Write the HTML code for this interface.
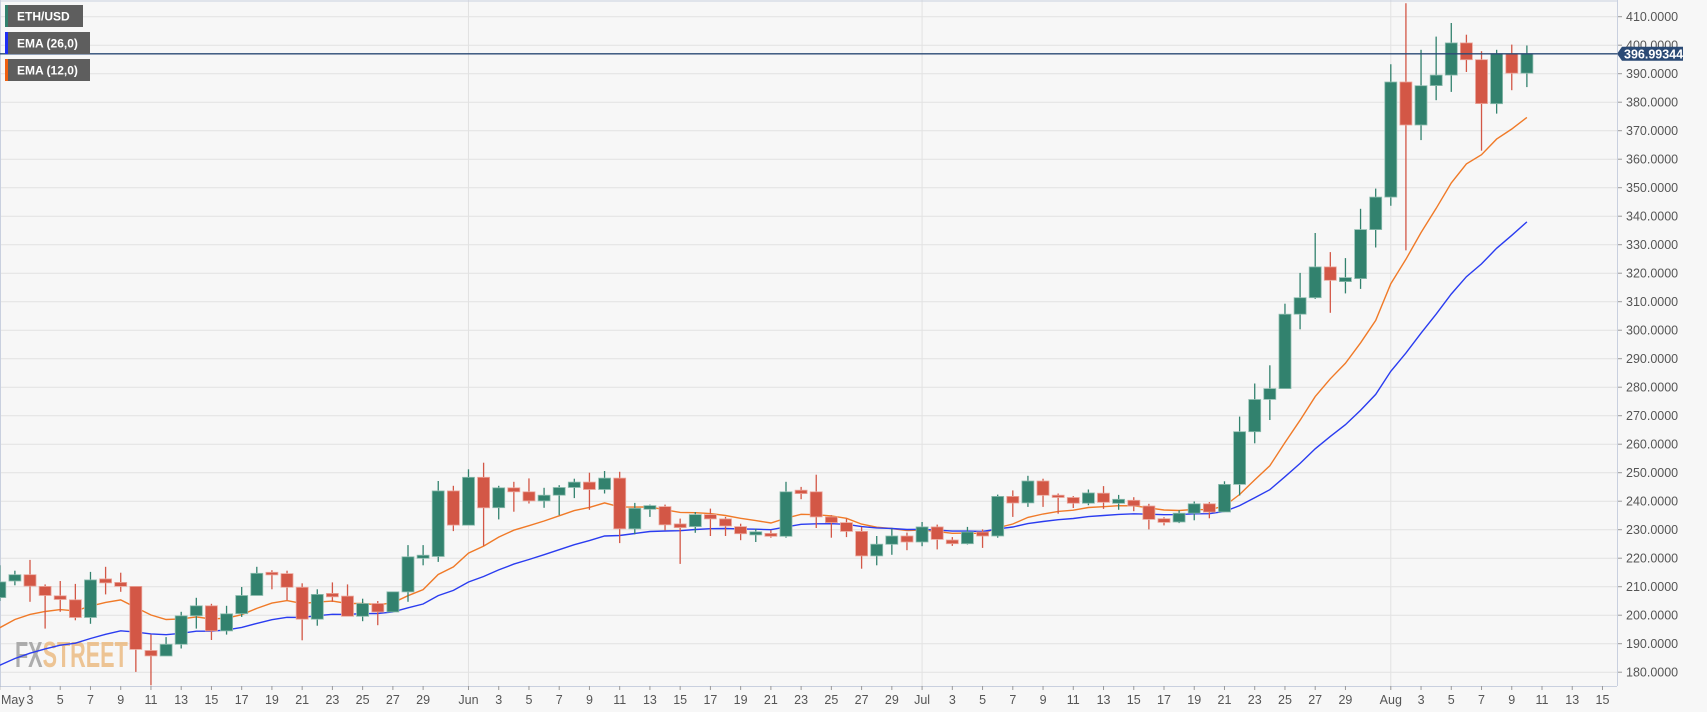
<!DOCTYPE html>
<html><head><meta charset="utf-8"><style>
html,body{margin:0;padding:0;background:#f7f7f7;}
svg{display:block;font-family:"Liberation Sans",sans-serif;}
</style></head><body>
<svg id="c" width="1707" height="712" xmlns="http://www.w3.org/2000/svg"></svg>
<script>
const D=[[206.2,217.5,205,211.7],[212,215.6,210.5,214.2],[214.2,219.4,204.7,210.2],[210.1,210.8,195.3,206.9],[206.8,212,201.2,205.5],[205.4,211,198.2,199.2],[199.2,215.2,197,212.4],[212.4,217,207.3,211.7],[211.5,214.9,208.2,210.1],[210.1,210.1,180.1,188],
[187.6,193.2,175.4,185.7],[185.7,192.3,185.7,189.8],[189.8,201.2,188.3,199.8],[199.8,206.1,195.3,203.3],[203.3,204,191.3,194.5],[194.5,203.3,193.2,200.5],[200.5,209.9,199.4,206.9],[206.9,217,206.9,214.7],[214.7,215.8,209.1,214.5],[214.6,215.6,205.3,209.8],
[209.8,211.2,191.2,198.6],[198.6,209.1,196.3,207.3],[207.3,211.5,204.7,206.8],[206.7,210.8,199.6,199.6],[199.6,205.8,197.9,204.1],[204.1,205,196.5,201.1],[201.1,208.2,201.1,208.2],[208.2,224.6,204.7,220.5],[220.3,224.6,217.5,220.7],[220.6,247.1,218.7,243.6],
[243.6,245.4,229.5,231.6],[231.6,251.2,231.6,248.4],[248.4,253.5,224.3,237.7],[237.7,245.4,233.6,244.7],[244.7,246.8,236.3,243.3],[243.3,248,239.2,240.1],[240.1,244.7,237.7,242.1],[242.1,245.6,235.1,244.8],[244.8,247.9,241.1,246.7],[246.7,250,237,244.1],
[244.1,250.6,242.7,248.1],[248.1,250.3,225.3,230.3],[230.3,239.4,228.4,237.5],[237.5,238.8,234.5,238.1],[238.1,238.8,229.8,231.7],[231.7,233.9,218,231.1],[231.1,236.2,228.9,235.3],[235.3,237.4,227.8,233.8],[233.8,234.5,227.8,231.3],[231.1,232.1,226.3,228.6],
[228.5,230.4,225.7,228.9],[228.7,229.8,227.2,227.7],[227.7,246.8,227.2,243.3],[243.5,245,240.7,243.0],[243.3,249.3,230.6,234.5],[234.5,235.1,227.2,232.5],[232.5,233.9,227.4,229.4],[229.4,231,216.3,220.8],[220.8,227.8,217.5,224.9],[224.9,230.4,221.2,227.8],
[227.8,229,222.8,225.7],[225.7,232.7,224.2,231],[231,231.8,223.1,226.6],[226.4,227.4,224.3,225.1],[225.1,231,224.8,229.2],[229.2,230.1,223.6,227.8],[227.8,242.3,227.2,241.7],[241.7,243.8,234.5,239.4],[239.4,248.9,238,247.1],[247.1,247.9,238,242.1],
[242.1,242.7,235.6,241.3],[241.3,241.8,237.6,239.3],[239.3,244.1,238.6,242.9],[242.8,245.3,237.3,239.6],[239.6,242.2,237,240.3],[240.3,241.4,236.5,238.3],[238.3,239.1,230.1,233.6],[233.5,234.4,231.5,232.9],[232.7,236.8,232.3,235.8],[235.8,239.9,233.3,239.1],
[239.1,239.7,234,236.2],[236.2,247,236.2,245.9],[245.9,269.7,242,264.4],[264.4,281.3,260.3,275.7],[275.7,287.7,268.5,279.5],[279.5,309.3,279.5,305.6],[305.6,320.1,300.3,311.4],[311.4,334.1,311,322.2],[322.2,327.4,306.1,317.5],[317.4,325.3,312.9,318.1],
[318.1,342.6,314.5,335.3],[335.3,349.7,329,346.7],[346.7,393.3,343.7,387.1],[387.1,414.7,328,372],[372,398.4,366.7,385.8],[385.8,403,380.7,389.5],[389.5,407.8,383.6,400.8],[400.8,403.7,390.6,394.9],[394.9,397.9,363,379.5],[379.5,398.4,376,397],
[397,400.2,384.2,390.2],[390.2,399.9,385.3,397]];
const X=i=>30+(i-2)*15.12, Y=p=>16.7+(410-p)*2.85;
let s='';
s+='<rect x="0" y="0" width="1617" height="686" fill="#f7f7f7"/>';
for(let p=180;p<=410;p+=10){const y=Y(p).toFixed(1);s+=`<line x1="0" x2="1617" y1="${y}" y2="${y}" stroke="#e2e2e2" stroke-width="1"/>`;
s+=`<line x1="1617" x2="1622" y1="${y}" y2="${y}" stroke="#999"/><text x="1626" y="${(+y+4.5).toFixed(1)}" font-size="12.5" fill="#555">${p}.0000</text>`;}
[31,61,92].forEach(i=>{s+=`<line x1="${X(i)}" x2="${X(i)}" y1="0" y2="686" stroke="#e2e2e2"/>`});
s+='<line x1="0" x2="1617" y1="686.5" y2="686.5" stroke="#c9d0df"/><line x1="1617.5" x2="1617.5" y1="0" y2="686" stroke="#c9d0df"/><line x1="0" x2="1617" y1="1" y2="1" stroke="#c9d0df"/><line x1="0.5" x2="0.5" y1="0" y2="686" stroke="#c9d0df"/>';
const lab=[];lab.push([0,'May']);for(let d=3;d<=29;d+=2)lab.push([d-1,''+d]);lab.push([31,'Jun']);for(let d=3;d<=29;d+=2)lab.push([30+d,''+d]);lab.push([61,'Jul']);for(let d=3;d<=29;d+=2)lab.push([60+d,''+d]);lab.push([92,'Aug']);for(let d=3;d<=15;d+=2)lab.push([91+d,''+d]);
lab.forEach(([i,t])=>{const x=X(i);s+=`<line x1="${x}" x2="${x}" y1="686" y2="690" stroke="#999"/>`;
if(i===0)s+=`<text x="1" y="704" font-size="12.5" fill="#555">${t}</text>`;else s+=`<text x="${x}" y="704" font-size="12.5" fill="#555" text-anchor="middle">${t}</text>`;});
s+='<text x="15" y="667" font-size="36" font-weight="bold" transform="translate(15,0) scale(0.6,1) translate(-15,0)" fill="#9a9a9a" fill-opacity="0.8">FX<tspan fill="#eab77a">STREET</tspan></text>';
function ema(n,prev){const a=2/(n+1);return D.map(d=>prev=a*d[3]+(1-a)*prev);}
const e12=ema(12,192.7),e26=ema(26,180.1);
s+=`<polyline fill="none" stroke="#f07a28" stroke-width="1.4" points="${e12.map((v,i)=>X(i).toFixed(1)+','+Y(v).toFixed(1)).join(' ')}"/>`;
s+=`<polyline fill="none" stroke="#2a3cf0" stroke-width="1.4" points="${e26.map((v,i)=>X(i).toFixed(1)+','+Y(v).toFixed(1)).join(' ')}"/>`;
D.forEach(([o,h,l,c],i)=>{const up=c>=o,col=up?'#32826e':'#d35746',bd=up?'#8fbdb0':'#eba79c';const x=X(i);
s+=`<line x1="${x}" x2="${x}" y1="${Y(h).toFixed(1)}" y2="${Y(l).toFixed(1)}" stroke="${col}" stroke-width="1.3"/>`;
let t=Y(Math.max(o,c)),b=Y(Math.min(o,c));if(b-t<2){t-=1;b+=1;}
s+=`<rect x="${(x-6).toFixed(1)}" y="${t.toFixed(1)}" width="12" height="${(b-t).toFixed(1)}" fill="${col}" stroke="${bd}" stroke-width="0.8"/>`;});
const py=Y(396.99344).toFixed(1);
s+=`<line x1="0" x2="1617" y1="${py}" y2="${py}" stroke="#2b4a75" stroke-width="1.3"/>`;
s+=`<polygon points="1617,${py} 1622,${py-7} 1683,${py-7} 1683,${+py+7} 1622,${+py+7}" fill="#2b4a75"/><text x="1624" y="${(+py+4.5).toFixed(1)}" font-size="12.5" font-weight="bold" fill="#fff">396.99344</text>`;
[['ETH/USD',5,83,'#32826e'],['EMA (26,0)',32,90,'#1f2ef5'],['EMA (12,0)',59,90,'#f06010']].forEach(([t,y,w,c])=>{
s+=`<rect x="5" y="${y}" width="${w-5}" height="22" fill="#5e5e5e"/><rect x="5" y="${y}" width="3" height="22" fill="${c}"/><text x="17" y="${y+15.5}" font-size="12" font-weight="bold" fill="#fff">${t}</text>`;});
document.getElementById('c').innerHTML=s;
</script>
</body></html>
